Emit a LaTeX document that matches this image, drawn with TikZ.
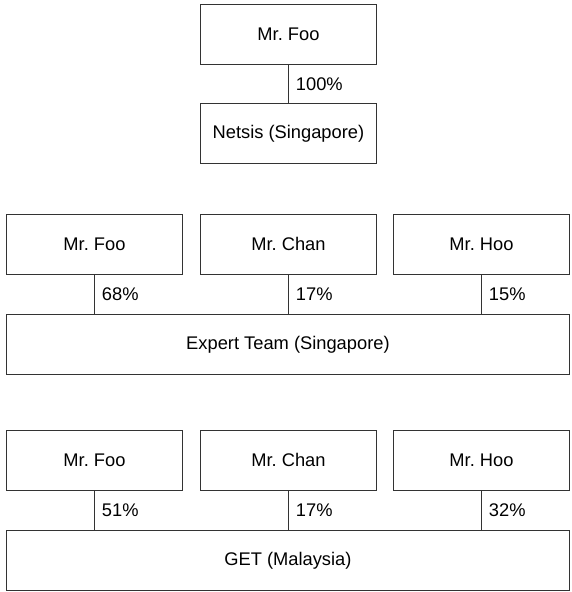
\documentclass[tikz,border=0pt]{standalone}
\usepackage{fontspec}
\setmainfont{Liberation Sans}
\frenchspacing
\begin{document}
\begin{tikzpicture}[x=1pt,y=-1pt,
  box/.style={draw=black!80,line width=0.9pt,minimum height=60pt,inner sep=0pt,font=\fontsize{18.3}{21}\selectfont,anchor=north west},
  link/.style={draw=black!80,line width=0.9pt},
  pct/.style={font=\fontsize{18.3}{21}\selectfont,anchor=west,inner sep=0pt}]
\useasboundingbox (0,0) rectangle (571,592);
% group 1
\node[box,minimum width=176pt] (f1) at (200,4) {Mr. Foo};
\node[box,minimum width=176pt] (n1) at (200,103) {Netsis (Singapore)};
\draw[link] (f1.south) -- (n1.north) node[pct,pos=0.5,xshift=7pt] {100\%};
% group 2
\node[box,minimum width=176pt] (f2) at (6,214) {Mr. Foo};
\node[box,minimum width=176pt] (c2) at (200,214) {Mr. Chan};
\node[box,minimum width=176pt] (h2) at (393,214) {Mr. Hoo};
\node[box,minimum width=563pt] (e2) at (6,314) {Expert Team (Singapore)};
\draw[link] (f2.south) -- (f2.south |- e2.north) node[pct,pos=0.5,xshift=7pt] {68\%};
\draw[link] (c2.south) -- (c2.south |- e2.north) node[pct,pos=0.5,xshift=7pt] {17\%};
\draw[link] (h2.south) -- (h2.south |- e2.north) node[pct,pos=0.5,xshift=7pt] {15\%};
% group 3
\node[box,minimum width=176pt] (f3) at (6,430) {Mr. Foo};
\node[box,minimum width=176pt] (c3) at (200,430) {Mr. Chan};
\node[box,minimum width=176pt] (h3) at (393,430) {Mr. Hoo};
\node[box,minimum width=563pt] (g3) at (6,530) {GET (Malaysia)};
\draw[link] (f3.south) -- (f3.south |- g3.north) node[pct,pos=0.5,xshift=7pt] {51\%};
\draw[link] (c3.south) -- (c3.south |- g3.north) node[pct,pos=0.5,xshift=7pt] {17\%};
\draw[link] (h3.south) -- (h3.south |- g3.north) node[pct,pos=0.5,xshift=7pt] {32\%};
\end{tikzpicture}
\end{document}
